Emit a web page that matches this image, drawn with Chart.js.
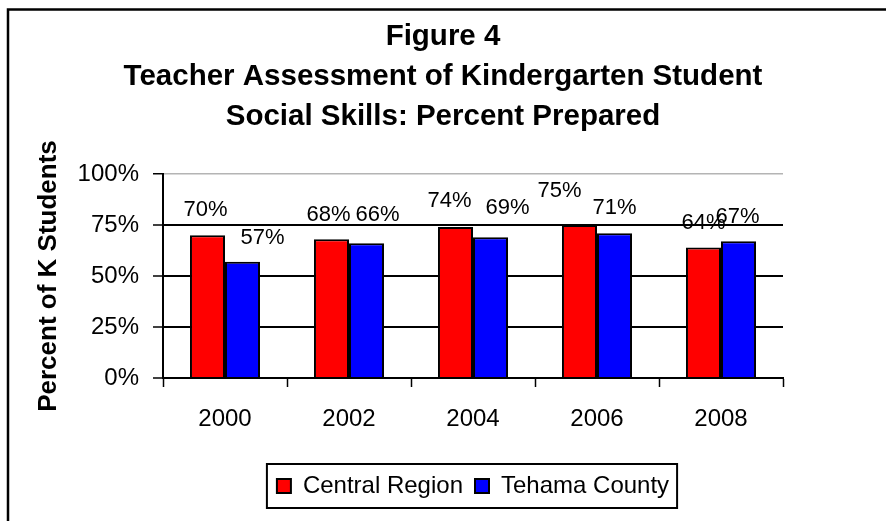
<!DOCTYPE html>
<html lang="en">
<head>
<meta charset="UTF-8" />
<title>Figure 4 - Teacher Assessment of Kindergarten Student Social Skills</title>
<style>
  html, body { margin: 0; padding: 0; background: #fff; }
  #wrap { width: 886px; height: 521px; position: relative; }
  canvas { display: block; }
</style>
</head>
<body>

<div id="wrap"><canvas id="chart" width="886" height="521"></canvas></div>

<script src="https://cdn.jsdelivr.net/npm/chart.js"></script>
<script>
  // data
  const years = ["2000", "2002", "2004", "2006", "2008"];
  const centralRegion = [70, 68, 74, 75, 64];
  const tehamaCounty = [57, 66, 69, 71, 67];
  const yTicks = [0, 25, 50, 75, 100];

  // hand placed label nudges (px), the original labels are not all centred
  const centralNudgeX = [-2, -3, -6, -20, 0];
  const centralNudgeY = [0, 1, -1, -9, 0];
  const tehamaNudgeX = [20, 11, 17, 0, -1];
  const tehamaNudgeY = [1, -3, -4, 0, 1];

  const FONT = "'Liberation Sans', Arial, sans-serif";

  // outer frame of the picture (only left and top edges are visible)
  const framePlugin = {
    id: "frame",
    beforeDraw(chart) {
      const ctx = chart.ctx;
      ctx.save();
      ctx.fillStyle = "#fff";
      ctx.fillRect(0, 0, chart.width, chart.height);
      ctx.strokeStyle = "#000";
      ctx.lineWidth = 2.5;
      ctx.strokeRect(8, 9.5, chart.width + 20, chart.height + 20);
      ctx.restore();
    }
  };

  // value labels above the bars
  const valueLabels = {
    id: "valueLabels",
    afterDatasetsDraw(chart) {
      const ctx = chart.ctx;
      const nudges = [[centralNudgeX, centralNudgeY], [tehamaNudgeX, tehamaNudgeY]];
      ctx.save();
      ctx.font = "22px " + FONT;
      ctx.fillStyle = "#000";
      ctx.textAlign = "center";
      ctx.textBaseline = "middle";
      chart.data.datasets.forEach((ds, di) => {
        chart.getDatasetMeta(di).data.forEach((bar, i) => {
          const x = bar.x + nudges[di][0][i];
          const y = bar.y - 25 + nudges[di][1][i];
          ctx.fillText(ds.data[i] + "%", x, y);
        });
      });
      ctx.restore();
    }
  };

  // box round the legend
  const legendBox = {
    id: "legendBox",
    afterDraw(chart) {
      const boxes = chart.legend && chart.legend.legendHitBoxes;
      if (!boxes || !boxes.length) return;
      const first = boxes[0], last = boxes[boxes.length - 1];
      const ctx = chart.ctx;
      ctx.save();
      ctx.strokeStyle = "#000";
      ctx.lineWidth = 2;
      const left = first.left - 10, right = last.left + last.width + 8;
      const cy = first.top + first.height / 2;
      ctx.strokeRect(left, cy - 22, right - left, 44);
      ctx.restore();
    }
  };

  new Chart(document.getElementById("chart"), {
    type: "bar",
    data: {
      labels: years,
      datasets: [
        {
          label: "Central Region",
          data: centralRegion,
          backgroundColor: "#ff0000",
          borderColor: "#000",
          borderWidth: 2
        },
        {
          label: "Tehama County",
          data: tehamaCounty,
          backgroundColor: "#0000ff",
          borderColor: "#000",
          borderWidth: 2
        }
      ]
    },
    options: {
      responsive: false,
      animation: false,
      devicePixelRatio: 1,
      layout: { padding: { top: 0, right: 0, bottom: 13, left: 0 } },
      datasets: {
        bar: { categoryPercentage: 0.565, barPercentage: 1.0 }
      },
      scales: {
        x: {
          grid: {
            offset: true,
            drawOnChartArea: false,
            drawTicks: true,
            tickLength: 9,
            tickColor: "#000",
            tickWidth: 1.5
          },
          border: { color: "#000", width: 2 },
          ticks: {
            color: "#000",
            font: { family: FONT, size: 24 },
            padding: 18
          },
          afterFit(scale) { scale.height = 84; }
        },
        y: {
          min: 0,
          max: 100,
          afterBuildTicks(scale) { scale.ticks = yTicks.map(v => ({ value: v })); },
          grid: {
            color: ctx => (ctx.tick && ctx.tick.value === 100 ? "#b4b4b4" : "#000"),
            lineWidth: ctx => (ctx.tick && ctx.tick.value === 100 ? 1.5 : 2),
            drawTicks: true,
            tickLength: 10,
            tickColor: "#000",
            tickWidth: 1.5
          },
          border: { color: "#000", width: 2 },
          ticks: {
            color: "#000",
            font: { family: FONT, size: 24 },
            padding: 14,
            callback: v => v + "%"
          },
          title: {
            display: true,
            text: "Percent of K Students",
            color: "#000",
            font: { family: FONT, size: 26, weight: "bold" },
            padding: { top: 33, bottom: 0 }
          },
          afterFit(scale) { scale.width = 163; }
        },
        // empty right hand axis, only keeps the space right of the plot
        spacer: {
          type: "linear",
          position: "right",
          display: true,
          grid: { display: false },
          border: { display: false },
          ticks: { display: false },
          afterFit(scale) { scale.width = 103; }
        }
      },
      plugins: {
        title: {
          display: true,
          text: ["Figure 4", "Teacher Assessment of Kindergarten Student", "Social Skills: Percent Prepared"],
          color: "#000",
          font: { family: FONT, size: 29.5, weight: "bold", lineHeight: "40px" },
          padding: { top: 17, bottom: 37 }
        },
        legend: {
          position: "bottom",
          fullSize: false,
          labels: {
            color: "#000",
            font: { family: FONT, size: 24 },
            boxWidth: 14,
            boxHeight: 14,
            padding: 12,
            useBorderRadius: false
          }
        },
        tooltip: { enabled: false }
      }
    },
    plugins: [framePlugin, valueLabels, legendBox]
  });
</script>

</body>
</html>
